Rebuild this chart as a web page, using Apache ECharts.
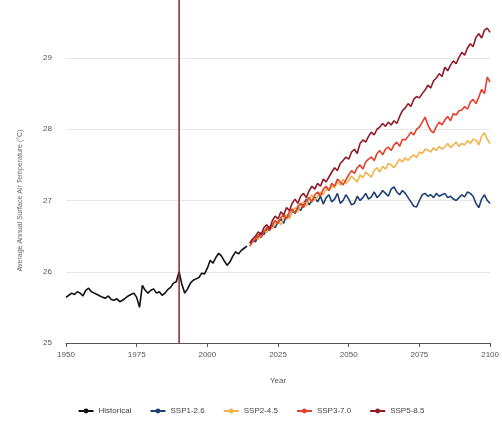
<!DOCTYPE html>
<html>
<head>
<meta charset="utf-8">
<script src="https://cdn.jsdelivr.net/npm/echarts@6/dist/echarts.min.js"></script>
<style>html,body{margin:0;padding:0;background:#fff;}#c{width:502px;height:430px;}</style>
</head>
<body>
<div id="c"></div>
<script>
const histStart = 1950;
const projStart = 2015;
const xTicks = [1950, 1975, 2000, 2025, 2050, 2075, 2100];
const yTicks = [25, 26, 27, 28, 29];
const markYear = 1990;
const seriesNames = ['Historical', 'SSP1-2.6', 'SSP2-4.5', 'SSP3-7.0', 'SSP5-8.5'];

const historical = [
25.64,25.67,25.70,25.68,25.72,25.70,25.66,25.74,25.77,25.72,
25.70,25.68,25.66,25.64,25.63,25.66,25.61,25.60,25.62,25.58,
25.60,25.63,25.66,25.68,25.70,25.64,25.50,25.81,25.74,25.70,
25.74,25.76,25.70,25.72,25.67,25.70,25.75,25.78,25.84,25.86,
26.00,25.82,25.70,25.76,25.84,25.88,25.90,25.92,25.98,25.97,
26.05,26.16,26.12,26.20,26.26,26.22,26.15,26.09,26.14,26.22,
26.28,26.25,26.30,26.33,26.36];

const ssp126 = [
26.40,26.45,26.42,26.50,26.55,26.52,26.60,26.58,26.66,26.62,
26.70,26.74,26.68,26.80,26.76,26.85,26.82,26.90,26.86,26.95,
27.02,26.94,27.00,27.05,26.98,27.06,26.95,27.04,27.08,26.98,
27.02,27.10,26.96,27.00,27.08,27.02,26.94,26.96,27.06,27.00,
27.04,27.10,27.02,27.05,27.12,27.04,27.08,27.14,27.10,27.06,
27.16,27.19,27.12,27.08,27.14,27.10,27.04,26.98,26.92,26.91,
27.00,27.08,27.10,27.06,27.08,27.04,27.10,27.06,27.08,27.10,
27.04,27.06,27.02,27.00,27.04,27.08,27.05,27.12,27.10,27.06,
26.96,26.90,27.02,27.08,27.00,26.96];

const ssp245 = [
26.38,26.44,26.48,26.45,26.54,26.58,26.55,26.64,26.60,26.68,
26.72,26.66,26.76,26.80,26.74,26.86,26.90,26.84,26.94,26.98,
26.92,27.02,27.08,27.00,27.06,27.12,27.08,27.16,27.14,27.20,
27.18,27.26,27.22,27.30,27.24,27.28,27.34,27.30,27.26,27.36,
27.32,27.40,27.36,27.33,27.42,27.46,27.40,27.48,27.44,27.52,
27.50,27.46,27.52,27.58,27.54,27.60,27.56,27.61,27.64,27.60,
27.68,27.66,27.72,27.71,27.68,27.74,27.70,27.76,27.72,27.75,
27.80,27.74,27.78,27.82,27.76,27.80,27.78,27.84,27.80,27.86,
27.85,27.78,27.90,27.95,27.86,27.80];

const ssp370 = [
26.36,26.42,26.46,26.52,26.48,26.56,26.62,26.58,26.66,26.72,
26.68,26.76,26.80,26.74,26.84,26.88,26.82,26.92,26.96,26.90,
27.00,27.04,26.98,27.08,27.12,27.06,27.16,27.20,27.14,27.24,
27.20,27.30,27.26,27.22,27.29,27.36,27.42,27.38,27.46,27.50,
27.44,27.54,27.58,27.61,27.56,27.66,27.70,27.64,27.72,27.75,
27.70,27.78,27.82,27.76,27.86,27.85,27.90,27.96,27.92,28.00,
28.03,28.10,28.17,28.06,27.98,27.95,28.04,28.10,28.06,28.13,
28.18,28.12,28.22,28.20,28.26,28.27,28.32,28.28,28.38,28.42,
28.36,28.45,28.56,28.50,28.73,28.66];

const ssp585 = [
26.40,26.46,26.50,26.56,26.52,26.62,26.66,26.60,26.72,26.78,
26.74,26.84,26.80,26.90,26.86,26.96,27.02,26.96,27.06,27.10,
27.04,27.14,27.20,27.16,27.24,27.20,27.30,27.26,27.33,27.40,
27.46,27.42,27.52,27.56,27.61,27.58,27.68,27.72,27.66,27.80,
27.85,27.82,27.90,27.96,27.92,28.00,28.03,28.08,28.04,28.10,
28.06,28.12,28.08,28.18,28.26,28.30,28.36,28.32,28.42,28.46,
28.44,28.50,28.55,28.62,28.58,28.68,28.72,28.78,28.74,28.87,
28.82,28.90,28.96,28.92,29.01,29.08,29.04,29.14,29.20,29.16,
29.29,29.34,29.28,29.39,29.42,29.36];

const colors = ['#111111', '#1d3f72', '#f0b44c', '#e2412e', '#8e1b27'];

function pairs(start, arr) { return arr.map((v, i) => [start + i, v]); }

const chart = echarts.init(document.getElementById('c'), null, {renderer: 'canvas'});
const dataSets = [pairs(histStart, historical), pairs(projStart, ssp126), pairs(projStart, ssp245), pairs(projStart, ssp370), pairs(projStart, ssp585)];
const series = seriesNames.map((n, i) => ({
  name: n, type: 'line', data: dataSets[i], showSymbol: false, symbol: 'circle', symbolSize: 4,
  clip: false,
  lineStyle: {width: 1.6, color: colors[i]}, itemStyle: {color: colors[i]}, z: 3 + i, animation: false
}));
series.push({
  name: 'marker', type: 'line', data: [[markYear, yTicks[0]], [markYear, 29.82]], showSymbol: false,
  clip: false, lineStyle: {width: 1.5, color: '#862a2a'}, z: 10, animation: false, silent: true
});

chart.setOption({
  animation: false,
  color: colors,
  grid: {left: 66, right: 7, top: 58, bottom: 87},
  legend: {
    data: seriesNames, bottom: 10, left: 'center', itemWidth: 15, itemHeight: 6, itemGap: 18,
    textStyle: {fontSize: 8, color: '#444', fontFamily: 'Liberation Sans'}
  },
  xAxis: {
    type: 'value', min: xTicks[0], max: xTicks[xTicks.length - 1], interval: 25,
    name: 'Year', nameLocation: 'middle', nameGap: 34,
    nameTextStyle: {fontSize: 8, color: '#555', fontFamily: 'Liberation Sans'},
    axisLine: {show: true, lineStyle: {color: '#555', width: 1}},
    axisTick: {show: true, length: 4, lineStyle: {color: '#555'}},
    axisLabel: {fontSize: 8, color: '#555', fontFamily: 'Liberation Sans', formatter: v => String(v)},
    splitLine: {show: false}
  },
  yAxis: {
    type: 'value', min: yTicks[0], max: yTicks[yTicks.length - 1], interval: 1,
    name: 'Average Annual Surface Air Temperature (°C)', nameLocation: 'middle', nameGap: 42,
    nameTextStyle: {fontSize: 7, color: '#666', fontFamily: 'Liberation Sans'},
    axisLine: {show: false}, axisTick: {show: false},
    axisLabel: {fontSize: 8, color: '#555', fontFamily: 'Liberation Sans', margin: 14},
    splitLine: {show: true, lineStyle: {color: '#e6e6e6', width: 1}}
  },
  series: series
});
</script>
</body>
</html>
